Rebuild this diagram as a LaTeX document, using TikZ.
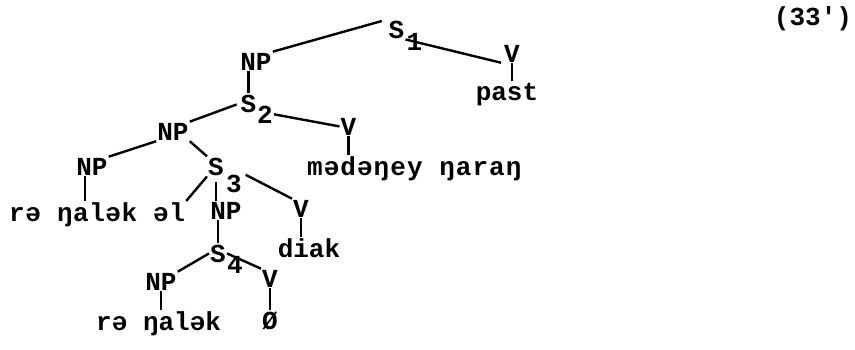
\documentclass[tikz,border=0pt]{standalone}
\usepackage{fontspec}
\setmonofont{Liberation Mono}
\usetikzlibrary{calc}
\begin{document}
\begin{tikzpicture}[x=1pt,y=-1pt,
  lbl/.style={font=\ttfamily\bfseries\fontsize{26}{30}\selectfont, inner sep=1pt, anchor=base},
  txt/.style={lbl, anchor=base west},
  edge/.style={line width=2.4pt}]
\useasboundingbox (0,0) rectangle (855,349);
% nodes
\node[lbl] (s1) at (396.5,38) {S};
\node[lbl] (s1n) at (414.5,50) {1};
\node[lbl] (np1) at (256,70) {NP};
\node[lbl] (v1) at (512,62) {V};
\node[lbl] (past) at (507,100) {past};
\node[lbl] (s2) at (248.5,112) {S};
\node[lbl] (s2n) at (265,123) {2};
\node[lbl] (np2) at (173,140) {NP};
\node[lbl] (v2) at (348.5,135) {V};
\node[txt] (t2) at (306,175) {\addfontfeatures{LetterSpace=4}mədəŋey ŋaraŋ};
\node[lbl] (np3) at (92,175) {NP};
\node[txt] (t3) at (8,221) {\addfontfeatures{LetterSpace=2}rə ŋalək əl};
\node[lbl] (s3) at (216,175) {S};
\node[lbl] (s3n) at (234,192) {3};
\node[lbl] (np4) at (226,219) {NP};
\node[lbl] (v3) at (301,217) {V};
\node[lbl] (diak) at (309,257) {diak};
\node[lbl] (s4) at (218,262) {S};
\node[lbl] (s4n) at (235,273) {4};
\node[lbl] (np5) at (161,290) {NP};
\node[lbl] (v4) at (270,287) {V};
\node[txt] (t5) at (95,330) {rə ŋalək};
\node[lbl] (phi) at (270,329) {Ø};
\node[lbl] (num) at (813,25) {(33')};
% connectors
\draw[edge, shorten >=6pt] (np1.north east) -- (s1.north west);
\draw[edge, shorten >=2pt] (s1.south east) -- (v1.south west);
\draw[edge] (v1.south) -- (v1.south |- past.north);
\draw[edge] (s2.north) -- (s2.north |- np1.south);
\draw[edge, shorten <=3pt] (s2.west) -- (np2.north east);
\draw[edge] (s2n.east) -- (v2.west);
\draw[edge] (v2.south) -- (v2.south |- t2.north);
\draw[edge] (np2.south west) -- (np3.north east);
\draw[edge] (np2.south east) -- (s3.north west);
\draw[edge] ([xshift=-7pt]np3.south) -- ([xshift=-7pt]np3.south |- t3.north);
\draw[edge] (s3.south west) -- (t3.north east);
\draw[edge, shorten <=6pt] (s3.south) -- (s3.south |- np4.north);
\draw[edge, shorten <=3pt] (s3n.north east) -- (v3.north west);
\draw[edge] (v3.south) -- (v3.south |- diak.north);
\draw[edge] (s4.north) -- (s4.north |- np4.south);
\draw[edge] (s4.west) -- (np5.north east);
\draw[edge] (s4.east) -- (v4.north west);
\draw[edge] (np5.south) -- (np5.south |- t5.north);
\draw[edge] (v4.south) -- (v4.south |- phi.north);
\end{tikzpicture}
\end{document}
